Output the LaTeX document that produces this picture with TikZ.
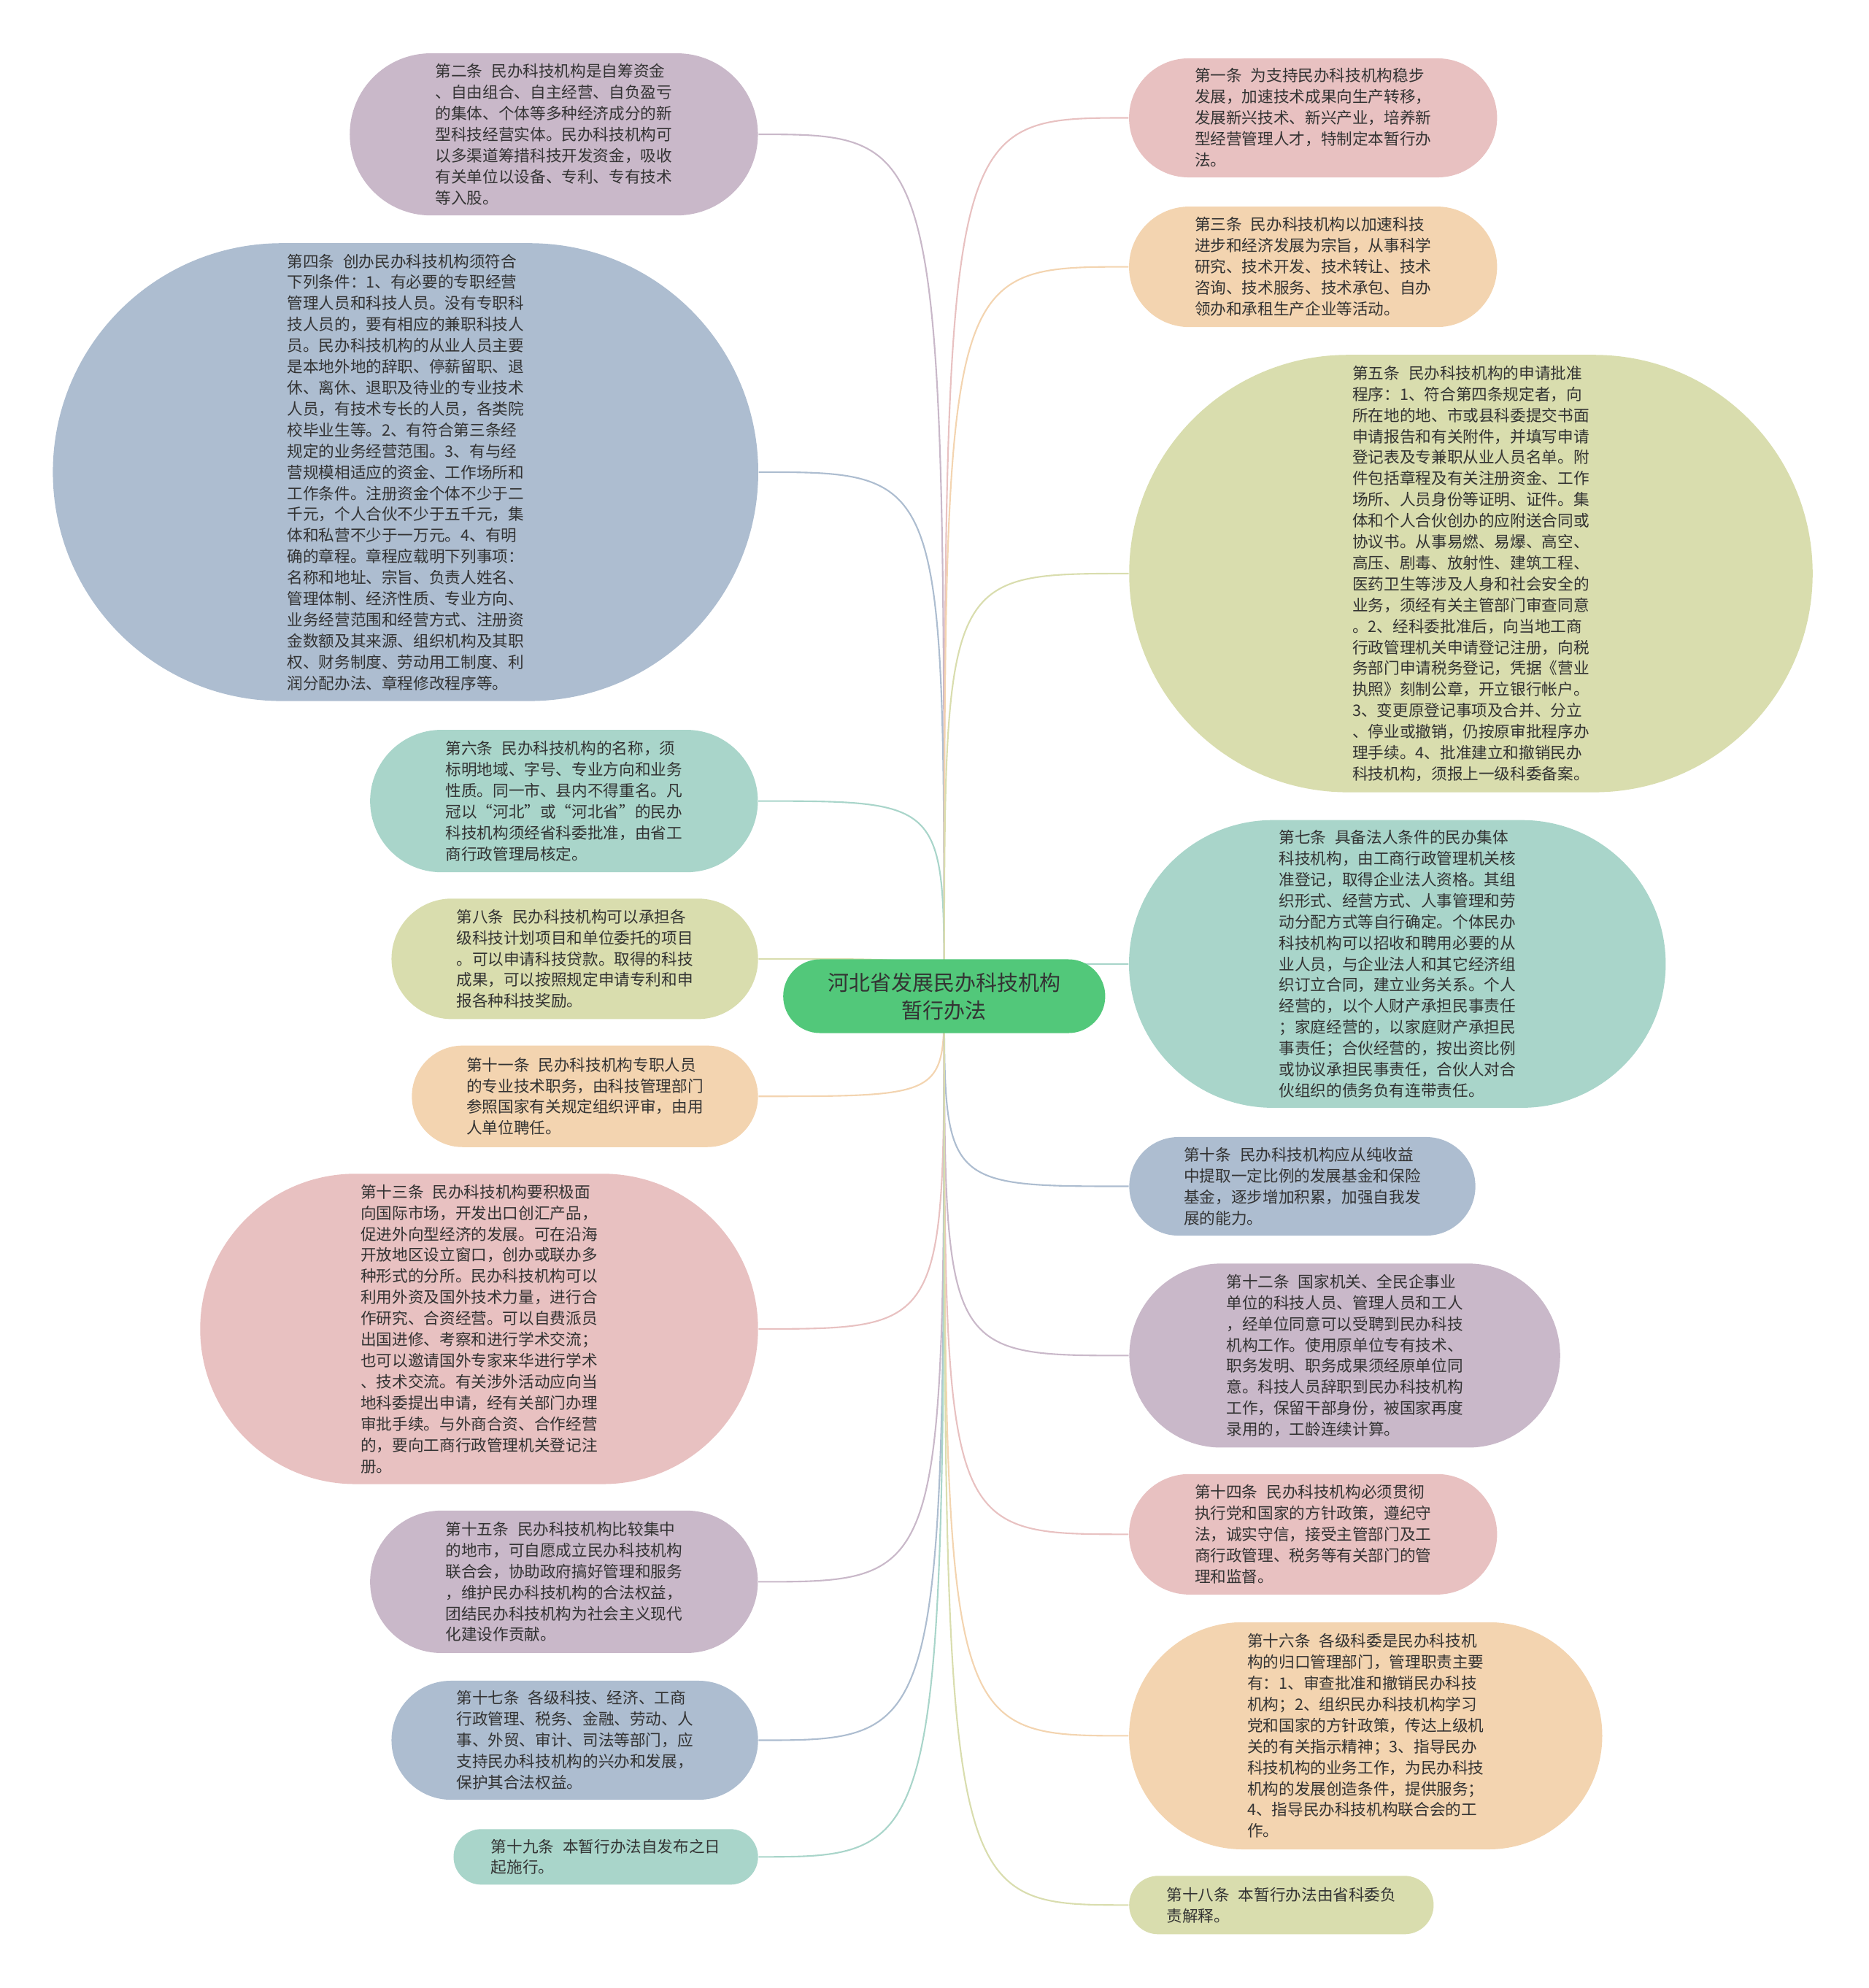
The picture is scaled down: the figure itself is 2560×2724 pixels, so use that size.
\documentclass[tikz,border=0pt]{standalone}
\usepackage{fontspec}
\setmainfont{Noto Sans CJK SC}
\usepackage{xcolor}
\usepackage{tikz}
\usetikzlibrary{shapes.misc,backgrounds}

\definecolor{cPurple}{HTML}{C9B8C9}
\definecolor{cSlate}{HTML}{ADBDD0}
\definecolor{cTeal}{HTML}{A9D5CA}
\definecolor{cOlive}{HTML}{D9DDAE}
\definecolor{cPeach}{HTML}{F3D4B0}
\definecolor{cPink}{HTML}{E8C1C1}
\definecolor{cHub}{HTML}{52C87A}
\definecolor{cText}{HTML}{333333}

\newcommand\artsep{\hspace{0.55em}}

\begin{document}
\begin{tikzpicture}[x=0.01cm, y=-0.01cm,
    art/.style={rounded rectangle, fill=#1, text=cText, align=left, inner sep=0pt,
      font=\fontsize{6.15pt}{8.22pt}\selectfont},
    link/.style={draw=#1, line width=0.6pt}]
  \useasboundingbox (0,0) rectangle (2560,2724);

  % Central topic
  \node[art=cHub, align=center, minimum width=4.41cm, minimum height=1.01cm,
      font=\fontsize{8.25pt}{10.8pt}\selectfont] (hub) at (1293.8,1365)
      {河北省发展民办科技机构\\暂行办法};

  % Left branch
  \node[art=cPurple, minimum width=5.59cm, minimum height=2.22cm] (a2) at (758.9,184.1)
      {第二条\artsep 民办科技机构是自筹资金\\、自由组合、自主经营、自负盈亏\\的集体、个体等多种经济成分的新\\型科技经营实体。民办科技机构可\\以多渠道筹措科技开发资金，吸收\\有关单位以设备、专利、专有技术\\等入股。};
  \node[art=cSlate, minimum width=9.66cm, minimum height=6.27cm] (a4) at (555.7,646.9)
      {第四条\artsep 创办民办科技机构须符合\\下列条件：1、有必要的专职经营\\管理人员和科技人员。没有专职科\\技人员的，要有相应的兼职科技人\\员。民办科技机构的从业人员主要\\是本地外地的辞职、停薪留职、退\\休、离休、退职及待业的专业技术\\人员，有技术专长的人员，各类院\\校毕业生等。2、有符合第三条经\\规定的业务经营范围。3、有与经\\营规模相适应的资金、工作场所和\\工作条件。注册资金个体不少于二\\千元，个人合伙不少于五千元，集\\体和私营不少于一万元。4、有明\\确的章程。章程应载明下列事项：\\名称和地址、宗旨、负责人姓名、\\管理体制、经济性质、专业方向、\\业务经营范围和经营方式、注册资\\金数额及其来源、组织机构及其职\\权、财务制度、劳动用工制度、利\\润分配办法、章程修改程序等。};
  \node[art=cTeal, minimum width=5.31cm, minimum height=1.95cm] (a6) at (772.8,1097.6)
      {第六条\artsep 民办科技机构的名称，须\\标明地域、字号、专业方向和业务\\性质。同一市、县内不得重名。凡\\冠以“河北”或“河北省”的民办\\科技机构须经省科委批准，由省工\\商行政管理局核定。};
  \node[art=cOlive, minimum width=5.02cm, minimum height=1.65cm] (a8) at (787.6,1313.8)
      {第八条\artsep 民办科技机构可以承担各\\级科技计划项目和单位委托的项目\\。可以申请科技贷款。取得的科技\\成果，可以按照规定申请专利和申\\报各种科技奖励。};
  \node[art=cPeach, minimum width=4.74cm, minimum height=1.39cm] (a11) at (801.5,1502.2)
      {第十一条\artsep 民办科技机构专职人员\\的专业技术职务，由科技管理部门\\参照国家有关规定组织评审，由用\\人单位聘任。};
  \node[art=cPink, minimum width=7.64cm, minimum height=4.25cm] (a13) at (656.5,1820.9)
      {第十三条\artsep 民办科技机构要积极面\\向国际市场，开发出口创汇产品，\\促进外向型经济的发展。可在沿海\\开放地区设立窗口，创办或联办多\\种形式的分所。民办科技机构可以\\利用外资及国外技术力量，进行合\\作研究、合资经营。可以自费派员\\出国进修、考察和进行学术交流；\\也可以邀请国外专家来华进行学术\\、技术交流。有关涉外活动应向当\\地科委提出申请，经有关部门办理\\审批手续。与外商合资、合作经营\\的，要向工商行政管理机关登记注\\册。};
  \node[art=cPurple, minimum width=5.31cm, minimum height=1.95cm] (a15) at (772.8,2167.4)
      {第十五条\artsep 民办科技机构比较集中\\的地市，可自愿成立民办科技机构\\联合会，协助政府搞好管理和服务\\，维护民办科技机构的合法权益，\\团结民办科技机构为社会主义现代\\化建设作贡献。};
  \node[art=cSlate, minimum width=5.02cm, minimum height=1.63cm] (a17) at (787.6,2384.5)
      {第十七条\artsep 各级科技、经济、工商\\行政管理、税务、金融、劳动、人\\事、外贸、审计、司法等部门，应\\支持民办科技机构的兴办和发展，\\保护其合法权益。};
  \node[art=cTeal, minimum width=4.17cm, minimum height=0.76cm] (a19) at (830.1,2544.3)
      {第十九条\artsep 本暂行办法自发布之日\\起施行。};

  % Right branch
  \node[art=cPink, minimum width=5.04cm, minimum height=1.63cm] (a1) at (1799.2,161.5)
      {第一条\artsep 为支持民办科技机构稳步\\发展，加速技术成果向生产转移，\\发展新兴技术、新兴产业，培养新\\型经营管理人才，特制定本暂行办\\法。};
  \node[art=cPeach, minimum width=5.04cm, minimum height=1.65cm] (a3) at (1799.2,365.6)
      {第三条\artsep 民办科技机构以加速科技\\进步和经济发展为宗旨，从事科学\\研究、技术开发、技术转让、技术\\咨询、技术服务、技术承包、自办\\领办和承租生产企业等活动。};
  \node[art=cOlive, minimum width=9.36cm, minimum height=5.99cm] (a5) at (2015.5,785.9)
      {第五条\artsep 民办科技机构的申请批准\\程序：1、符合第四条规定者，向\\所在地的地、市或县科委提交书面\\申请报告和有关附件，并填写申请\\登记表及专兼职从业人员名单。附\\件包括章程及有关注册资金、工作\\场所、人员身份等证明、证件。集\\体和个人合伙创办的应附送合同或\\协议书。从事易燃、易爆、高空、\\高压、剧毒、放射性、建筑工程、\\医药卫生等涉及人身和社会安全的\\业务，须经有关主管部门审查同意\\。2、经科委批准后，向当地工商\\行政管理机关申请登记注册，向税\\务部门申请税务登记，凭据《营业\\执照》刻制公章，开立银行帐户。\\3、变更原登记事项及合并、分立\\、停业或撤销，仍按原审批程序办\\理手续。4、批准建立和撤销民办\\科技机构，须报上一级科委备案。};
  \node[art=cTeal, minimum width=7.35cm, minimum height=3.94cm] (a7) at (1914.7,1320.8)
      {第七条\artsep 具备法人条件的民办集体\\科技机构，由工商行政管理机关核\\准登记，取得企业法人资格。其组\\织形式、经营方式、人事管理和劳\\动分配方式等自行确定。个体民办\\科技机构可以招收和聘用必要的从\\业人员，与企业法人和其它经济组\\织订立合同，建立业务关系。个人\\经营的，以个人财产承担民事责任\\；家庭经营的，以家庭财产承担民\\事责任；合伙经营的，按出资比例\\或协议承担民事责任，合伙人对合\\伙组织的债务负有连带责任。};
  \node[art=cSlate, minimum width=4.74cm, minimum height=1.35cm] (a10) at (1784.5,1625.5)
      {第十条\artsep 民办科技机构应从纯收益\\中提取一定比例的发展基金和保险\\基金，逐步增加积累，加强自我发\\展的能力。};
  \node[art=cPurple, minimum width=5.90cm, minimum height=2.52cm] (a12) at (1842.6,1857.4)
      {第十二条\artsep 国家机关、全民企事业\\单位的科技人员、管理人员和工人\\，经单位同意可以受聘到民办科技\\机构工作。使用原单位专有技术、\\职务发明、职务成果须经原单位同\\意。科技人员辞职到民办科技机构\\工作，保留干部身份，被国家再度\\录用的，工龄连续计算。};
  \node[art=cPink, minimum width=5.04cm, minimum height=1.65cm] (a14) at (1799.2,2102.3)
      {第十四条\artsep 民办科技机构必须贯彻\\执行党和国家的方针政策，遵纪守\\法，诚实守信，接受主管部门及工\\商行政管理、税务等有关部门的管\\理和监督。};
  \node[art=cPeach, minimum width=6.48cm, minimum height=3.11cm] (a16) at (1871.3,2378.4)
      {第十六条\artsep 各级科委是民办科技机\\构的归口管理部门，管理职责主要\\有：1、审查批准和撤销民办科技\\机构；2、组织民办科技机构学习\\党和国家的方针政策，传达上级机\\关的有关指示精神；3、指导民办\\科技机构的业务工作，为民办科技\\机构的发展创造条件，提供服务；\\4、指导民办科技机构联合会的工\\作。};
  \node[art=cOlive, minimum width=4.17cm, minimum height=0.80cm] (a18) at (1755.8,2610.3)
      {第十八条\artsep 本暂行办法由省科委负\\责解释。};

  % Links
  \begin{scope}[on background layer]
    \foreach \nd/\col in {a2/cPurple, a4/cSlate, a6/cTeal, a8/cOlive, a11/cPeach,
        a13/cPink, a15/cPurple, a17/cSlate, a19/cTeal}
      \draw[link=\col] (hub.center) .. controls (hub.center |- \nd.east) .. (\nd.east);
    \foreach \nd/\col in {a1/cPink, a3/cPeach, a5/cOlive, a7/cTeal, a10/cSlate,
        a12/cPurple, a14/cPink, a16/cPeach, a18/cOlive}
      \draw[link=\col] (hub.center) .. controls (hub.center |- \nd.west) .. (\nd.west);
  \end{scope}
\end{tikzpicture}
\end{document}
